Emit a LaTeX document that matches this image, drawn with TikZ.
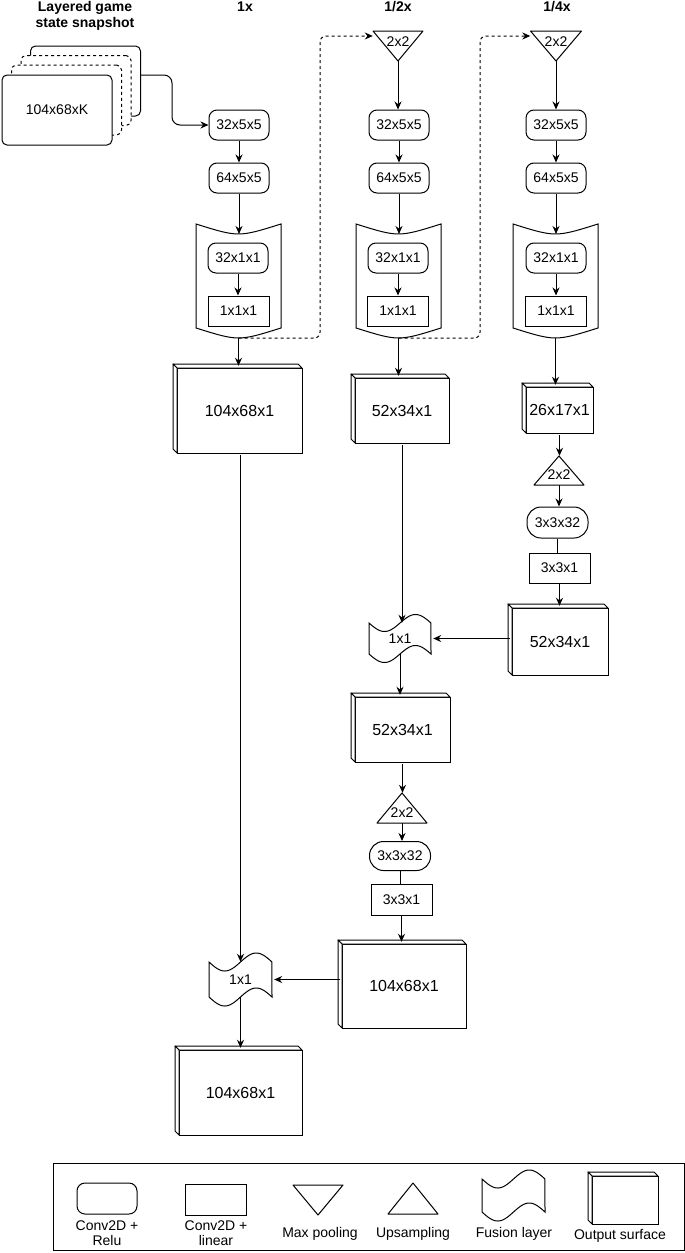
\documentclass[tikz,border=0pt]{standalone}
\usepackage{fontspec}
\setmainfont{Liberation Sans}
\usetikzlibrary{arrows.meta,calc}

\tikzset{
  every node/.style={font=\fontsize{14}{15}\selectfont, inner sep=0pt},
  ln/.style={line width=1pt, draw=black},
  arr/.style={ln, -{Stealth[length=8pt,width=7pt]}},
  plainln/.style={ln},
  dotarr/.style={arr, dash pattern=on 3pt off 3pt, rounded corners=6pt},
  relu/.style={ln, fill=white, rounded corners=8pt, minimum width=60pt, minimum height=30pt},
  lin/.style={ln, fill=white, minimum width=61pt, minimum height=30pt},
  pill/.style={ln, fill=white, rounded corners=14pt, minimum width=61pt, minimum height=29pt},
  big/.style={font=\fontsize{16}{18}\selectfont},
  ttl/.style={font=\bfseries\fontsize{14}{16}\selectfont, align=center},
  layer/.style={ln, fill=white, rounded corners=5pt, minimum width=110pt, minimum height=70pt},
}

% name, x0, y0, x1, y1, text
\newcommand\cubebox[6]{%
  \draw[ln,fill=white] (#2+4,#3+4) rectangle (#4,#5);
  \draw[ln,fill=white,line join=round] (#2+4,#3+4) -- (#2,#3) -- (#4-4,#3) -- (#4,#3+4) -- cycle;
  \draw[ln,fill=white,line join=round] (#2+4,#3+4) -- (#2,#3) -- (#2,#5-4) -- (#2+4,#5) -- cycle;
  \node[big, minimum width={(#4-#2)*1pt}, minimum height={(#5-#3)*1pt}] (#1) at ({(#2+#4)/2+2},{(#3+#5)/2+2}) {#6};
}
% name, x0, y0(top), x1, y1(bottom middle)
\newcommand\tapebox[5]{%
  \draw[ln,fill=white] (#2,#3) .. controls ({(#2+#4)/2},#3+13.3) .. (#4,#3) -- (#4,#5-10)
     .. controls ({(#2+#4)/2},#5+3.3) .. (#2,#5-10) -- cycle;
  \node[minimum width={(#4-#2)*1pt}, minimum height={(#5-#3)*1pt}] (#1) at ({(#2+#4)/2},{(#3+#5)/2}) {};
  \coordinate (#1-top) at ({(#2+#4)/2},#3+10);
}
% name, x0, y0, w, h, amplitude, text
\newcommand\fusebox[7]{%
  \draw[ln,fill=white] plot[domain=0:1,samples=60] ({#2+#4*\x},{#3+#6*sin(360*\x)})
     -- plot[domain=1:0,samples=60] ({#2+#4*\x},{#3+#5+#6*sin(360*\x)}) -- cycle;
  \node[minimum width={#4*1pt}, minimum height={#5*1pt}] (#1) at ({#2+#4/2},{#3+#5/2}) {#7};
}
% name, cx, y0, w, h, text
\newcommand\downtri[6]{%
  \draw[ln,fill=white,line join=round] (#2-#4/2,#3) -- (#2+#4/2,#3) -- (#2,#3+#5) -- cycle;
  \node[minimum width={#4*1pt}, minimum height={#5*1pt}] (#1) at (#2,#3+#5/2) {};
  \node (#1-t) at (#2,#3+11) {#6};
}
\newcommand\uptri[6]{%
  \draw[ln,fill=white,line join=round] (#2,#3) -- (#2+#4/2,#3+#5) -- (#2-#4/2,#3+#5) -- cycle;
  \node[minimum width={#4*1pt}, minimum height={#5*1pt}] (#1) at (#2,#3+#5/2) {};
  \node (#1-t) at (#2,#3+#5-10) {#6};
}

\begin{document}
\begin{tikzpicture}[x=1pt,y=-1pt]
\useasboundingbox[fill=white] (0,0) rectangle (685,1253);

% titles
\node[ttl] (t0) at (85,16) {Layered game\\state snapshot};
\node[ttl] (t1) at (245,7) {1x};
\node[ttl] (t2) at (398,7) {1/2x};
\node[ttl] (t3) at (557,7) {1/4x};

% input stack
\node[layer] (L4) at (85.5,81) {};
\node[layer, dash pattern=on 3pt off 3pt] (L3) at (76,90.5) {};
\node[layer, dash pattern=on 3pt off 3pt] (L2) at (66.5,100) {};
\node[layer] (L1) at (57,110) {104x68xK};

% ---------- column 1 ----------
\node[relu] (a1) at (239,125) {32x5x5};
\node[relu] (a2) at (239,178) {64x5x5};
\tapebox{T1}{196}{224}{281}{338}
\node[relu] (b1) at (238,258) {32x1x1};
\node[lin] (c1) at (238.5,311) {1x1x1};
\cubebox{B1}{173}{364}{302}{453}{104x68x1}
\fusebox{F1}{209}{962}{63}{35}{9}{1x1}
\cubebox{B1b}{175}{1046}{302}{1135}{104x68x1}

% ---------- column 2 ----------
\downtri{P2}{398}{31}{50}{30}{2x2}
\node[relu] (a21) at (399,125) {32x5x5};
\node[relu] (a22) at (399,178) {64x5x5};
\tapebox{T2}{356}{224}{441}{338}
\node[relu] (b2) at (398,258) {32x1x1};
\node[lin] (c2) at (398,311) {1x1x1};
\cubebox{B2}{351}{374}{449}{443}{52x34x1}
\fusebox{F2}{369}{623}{62}{31}{8.5}{1x1}
\cubebox{B2b}{351}{693}{450}{762}{52x34x1}
\uptri{U2}{402}{793}{50}{30}{2x2}
\node[pill] (p2) at (400,856) {3x3x32};
\node[lin, minimum height=31pt] (r2) at (401.5,899.5) {3x3x1};
\cubebox{B2c}{338}{940}{466}{1028}{104x68x1}

% ---------- column 3 ----------
\downtri{P3}{556}{31}{51}{30}{2x2}
\node[relu] (a31) at (556,125) {32x5x5};
\node[relu] (a32) at (556,178) {64x5x5};
\tapebox{T3}{513}{224}{598}{338}
\node[relu] (b3) at (556,258) {32x1x1};
\node[lin] (c3) at (556,311) {1x1x1};
\cubebox{B3}{522}{383}{593}{433}{26x17x1}
\uptri{U3}{559}{456}{50}{29}{2x2}
\node[pill, minimum height=31pt] (p3) at (557.5,522.5) {3x3x32};
\node[lin] (r3) at (559.5,568) {3x3x1};
\cubebox{B3c}{508}{604}{608}{675}{52x34x1}

% ---------- connectors ----------
\coordinate (s1) at (172,75);
\draw[arr, rounded corners=8pt] (L4.east |- s1) -- (s1) |- (a1.west);
\draw[arr] (a1.south) -- (a2.north);
\draw[arr] (a2.south) -- (a2.south |- T1-top);
\draw[arr] (b1.south) -- (b1.south |- c1.north);
\draw[arr] (T1.south) -- (T1.south |- B1.north);
\draw[arr] (F1.north |- B1.south) -- (F1.north);
\draw[arr] (F1.south) -- (F1.south |- B1b.north);

\coordinate (d1) at (320,36);
\draw[dotarr] (T1.south) -| (d1) -- (P2.north west |- d1);
\draw[arr] (P2.south) -- (P2.south |- a21.north);
\draw[arr] (a21.south) -- (a22.north);
\draw[arr] (a22.south) -- (a22.south |- T2-top);
\draw[arr] (b2.south) -- (b2.south |- c2.north);
\draw[arr] (T2.south) -- (T2.south |- B2.north);
\draw[arr] (B2.south) -- (B2.south |- F2.north);
\draw[arr] (F2.south) -- (F2.south |- B2b.north);
\draw[arr] (B2b.south) -- (B2b.south |- U2.north);
\draw[arr] (U2.south) -- (U2.south |- p2.north);
\draw[plainln] (p2.south) -- (p2.south |- r2.north);
\draw[arr] (r2.south) -- (r2.south |- B2c.north);
\draw[arr] (B2c.west |- F1.east) -- ([xshift=2pt]F1.east);

\coordinate (d2) at (480,36);
\draw[dotarr] (T2.south) -| (d2) -- (P3.north west |- d2);
\draw[arr] (P3.south) -- (P3.south |- a31.north);
\draw[arr] (a31.south) -- (a32.north);
\draw[arr] (a32.south) -- (a32.south |- T3-top);
\draw[arr] (b3.south) -- (b3.south |- c3.north);
\draw[arr] (T3.south) -- (T3.south |- B3.north);
\draw[arr] (B3.south) -- (B3.south |- U3.north);
\draw[arr] (U3.south) -- (U3.south |- p3.north);
\draw[plainln] (p3.south) -- (p3.south |- r3.north);
\draw[arr] (r3.south) -- (r3.south |- B3c.north);
\draw[arr] (B3c.west |- F2.east) -- ([xshift=2pt]F2.east);

% ---------- legend ----------
\node[ln, minimum width=631pt, minimum height=87pt] (leg) at (368.5,1206.5) {};
\node[relu, minimum height=31pt] (lg1) at (107,1198.5) {};
\node[align=center] (lg1t) at (107,1233.5) {Conv2D +\\Relu};
\node[lin, minimum height=31pt] (lg2) at (215.5,1199.5) {};
\node[align=center] (lg2t) at (216,1233) {Conv2D +\\linear};
\draw[ln,line join=round] (293,1185) -- (343,1185) -- (318,1215) -- cycle;
\node[minimum width=50pt, minimum height=30pt] (lg3) at (318,1200) {};
\node (lg3t) at (320,1234) {Max pooling};
\draw[ln,line join=round] (413,1183) -- (438,1214) -- (388,1214) -- cycle;
\node[minimum width=50pt, minimum height=31pt] (lg4) at (413,1198.5) {};
\node (lg4t) at (413,1234) {Upsampling};
\fusebox{lg5}{482}{1179}{63}{33}{9}{}
\node (lg5t) at (514,1234) {Fusion layer};
\cubebox{lg6}{588}{1172}{658}{1224}{}
\node (lg6t) at (620,1236) {Output surface};
\end{tikzpicture}
\end{document}
